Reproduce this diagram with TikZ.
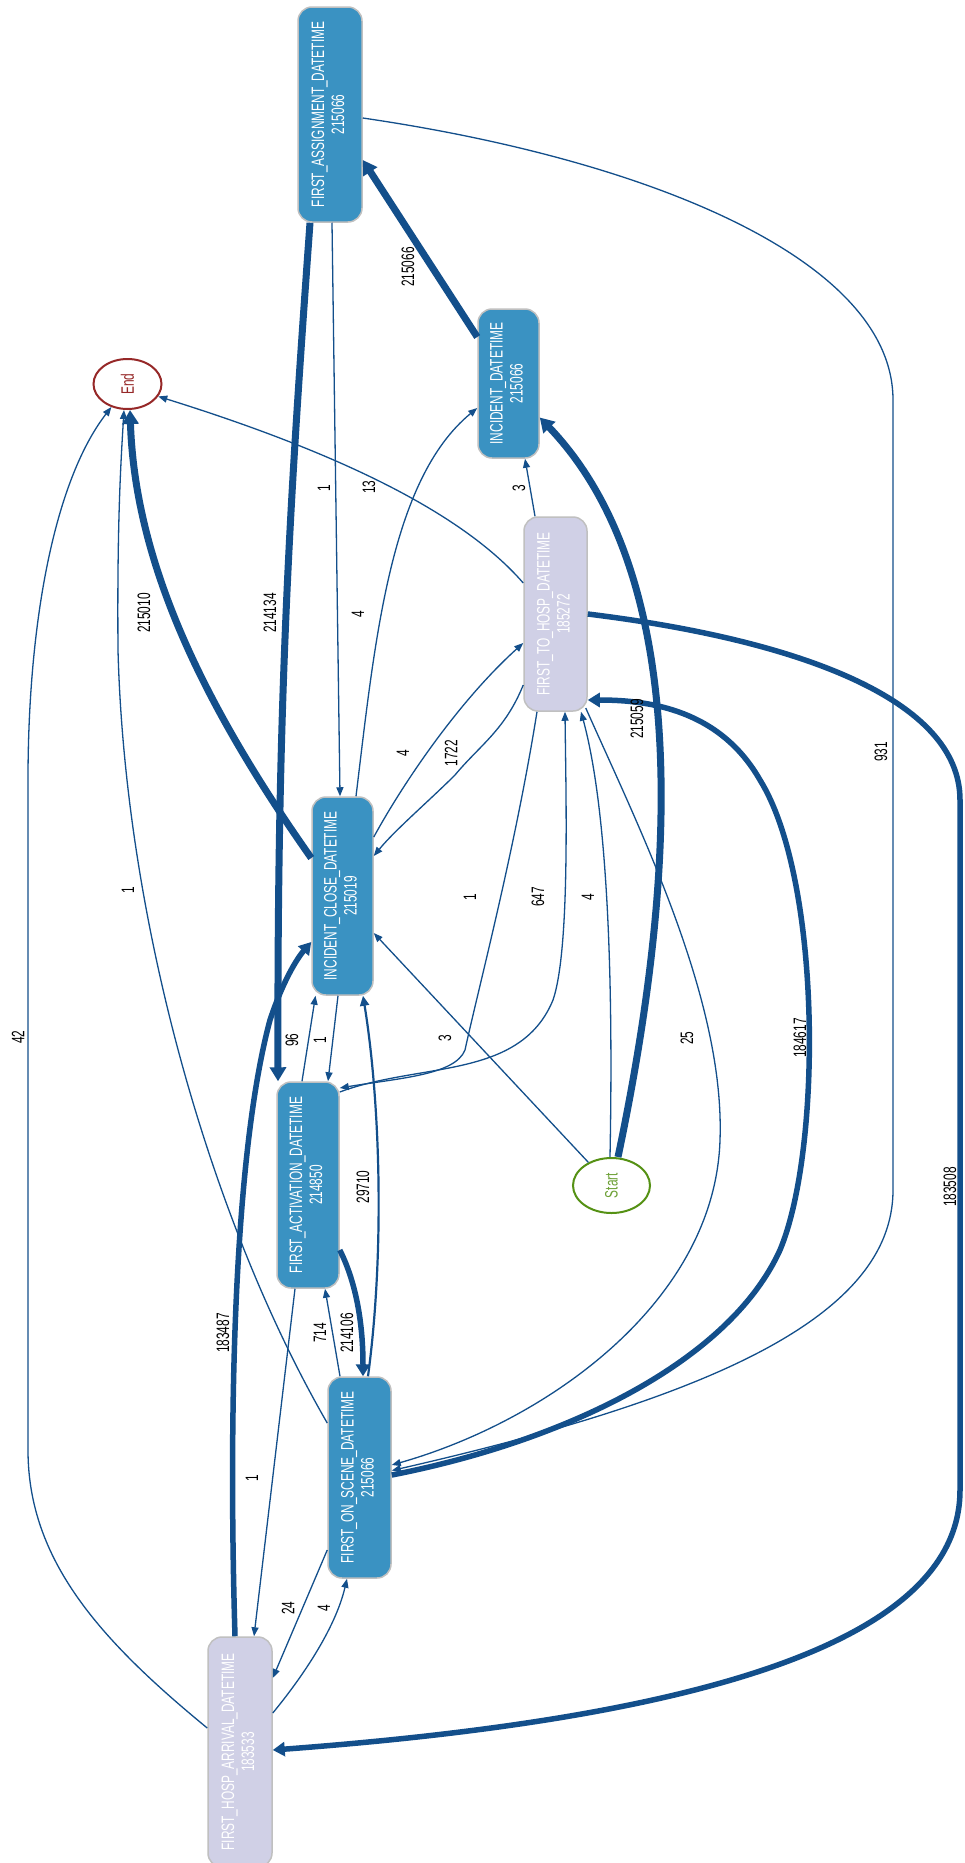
\documentclass[tikz,border=0pt]{standalone}
\usepackage{fontspec}
\usepackage{graphicx}
\usetikzlibrary{arrows.meta,shapes.geometric,calc}
\newfontfamily\narrowsans{Liberation Sans}[FakeStretch=0.66]
\definecolor{edgeblue}{RGB}{19,79,139}
\definecolor{actblue}{RGB}{58,146,194}
\definecolor{actgrey}{RGB}{208,208,230}
\definecolor{boxline}{RGB}{192,192,192}
\definecolor{endred}{RGB}{150,40,40}
\definecolor{startgreen}{RGB}{85,145,20}
% activity name over its count, turned on its side
\newcommand\act[2]{\rotatebox{90}{\begin{tabular}{@{}c@{}}#1\\#2\end{tabular}}}

\begin{document}
\begin{tikzpicture}[x=1pt,y=-1pt,
  font=\narrowsans\fontsize{18}{20}\selectfont,
  box/.style={draw=boxline,line width=1.5pt,rounded corners=14pt,inner sep=0pt,text=white},
  busy/.style={box,fill=actblue},
  rare/.style={box,fill=actgrey},
  terminal/.style={ellipse,line width=2pt,inner sep=0pt,minimum width=68pt,minimum height=50pt},
  flowlo/.style={draw=edgeblue,line width=1.3pt,-{Triangle[length=9pt,width=7pt]}},
  flowmd/.style={draw=edgeblue,line width=2.2pt,-{Triangle[length=10pt,width=9pt]}},
  flowhi/.style={draw=edgeblue,line width=5.5pt,-{Triangle[length=12pt,width=14pt]}},
  flowtop/.style={draw=edgeblue,line width=7pt,-{Triangle[length=14pt,width=16pt]}},
  cnt/.style={rotate=90,inner sep=0pt,text=black}]
\fill[white] (0,0) rectangle (964,1863);
\useasboundingbox (0,0) rectangle (964,1863);

% activities
\node[busy,minimum width=64pt,minimum height=215pt] (fa) at (330,114.5) {\act{FIRST\_ASSIGNMENT\_DATETIME}{215066}};
\node[busy,minimum width=61pt,minimum height=149pt] (inc) at (508.5,383.5) {\act{INCIDENT\_DATETIME}{215066}};
\node[rare,minimum width=63pt,minimum height=194pt] (fth) at (555.5,614) {\act{FIRST\_TO\_HOSP\_DATETIME}{185272}};
\node[busy,minimum width=61pt,minimum height=198pt] (icl) at (342.5,896) {\act{INCIDENT\_CLOSE\_DATETIME}{215019}};
\node[busy,minimum width=62pt,minimum height=206pt] (fact) at (308,1185) {\act{FIRST\_ACTIVATION\_DATETIME}{214850}};
\node[busy,minimum width=63pt,minimum height=201pt] (fos) at (359.5,1477.5) {\act{FIRST\_ON\_SCENE\_DATETIME}{215066}};
\node[rare,minimum width=64pt,minimum height=230pt] (fha) at (240,1752) {\act{FIRST\_HOSP\_ARRIVAL\_DATETIME}{183533}};
\node[terminal,draw=endred,text=endred] (fin) at (127.5,384) {\rotatebox{90}{End}};
\node[terminal,draw=startgreen,text=startgreen!85!white,minimum width=77pt,minimum height=55pt] (start) at (611.5,1185.5) {\rotatebox{90}{Start}};

% heavy flows
\draw[flowtop] ($(inc.west)+(0,-46.5)$) -- ($(fa.east)+(0,45.5)$);
\draw[flowtop] ($(fa.south)+(-20,0)$) .. controls (290,500) and (277,700) .. ($(fact.north)+(-30,0)$);
\draw[flowtop] ($(start.north)+(6.5,0)$) .. controls (672,900) and (700,585) .. ($(inc.east)+(0,34)$);
\draw[flowtop] ($(icl.west)+(0,-38)$) .. controls (200,700) and (135,560) .. ($(fin.south)+(2.5,0)$);
\draw[flowhi] ($(fact.east)+(0,65)$) .. controls (355,1280) and (363,1320) .. ($(fos.north)+(3.5,0)$);
\draw[flowhi] ($(fos.east)+(0,-2.5)$) .. controls (570,1440) and (730,1360) .. (780,1250)
  .. controls (822,1150) and (822,880) .. (760,780) .. controls (720,710) and (650,700) .. ($(fth.east)+(0,86)$);
\draw[flowhi] (fth.east) .. controls (800,640) and (960,700) .. (960,800) -- (960,1490)
  .. controls (960,1630) and (740,1715) .. ($(fha.east)+(0,-2)$);
\draw[flowhi] ($(fha.north)+(-5,0)$) .. controls (228,1400) and (235,1150) .. (270,1020)
  .. controls (285,975) and (300,955) .. ($(icl.west)+(0,46)$);
\draw[flowmd] ($(fos.north)+(8.5,0)$) .. controls (385,1250) and (380,1100) .. ($(icl.south)+(20.5,0)$);

% light flows
\draw[flowlo] ($(fa.south)+(2,0)$) -- ($(icl.north)+(-2.5,0)$);
\draw[flowlo] ($(fa.east)+(0,3.5)$) .. controls (650,160) and (893,260) .. (893,400) -- (893,1190)
  .. controls (893,1320) and (700,1400) .. ($(fos.east)+(0,-7)$);
\draw[flowlo] ($(fth.north)+(-20.5,0)$) -- ($(inc.south)+(16.5,0)$);
\draw[flowlo] ($(icl.north)+(13.5,0)$) .. controls (375,640) and (390,480) .. ($(inc.west)+(0,24.5)$);
\draw[flowlo] ($(fth.west)+(0,-31)$) .. controls (460,510) and (330,450) .. (fin.-22);
\draw[flowlo] ($(icl.east)+(0,-59)$) .. controls (405,780) and (460,700) .. ($(fth.west)+(0,29)$);
\draw[flowlo] ($(fth.west)+(0,71)$) .. controls (505,730) and (480,745) .. (455,775)
  .. controls (430,800) and (395,830) .. ($(icl.east)+(0,-40)$);
\draw[flowlo] ($(fth.south)+(-18.5,0)$) .. controls (515,850) and (478,990) .. (465,1050)
  .. controls (455,1075) and (400,1078) .. ($(fact.east)+(0,-97)$);
\draw[flowlo] ($(fact.east)+(0,-93)$) .. controls (420,1062) and (520,1080) .. (553,1000)
  .. controls (570,950) and (566,800) .. ($(fth.south)+(9.5,0)$);
\draw[flowlo] ($(start.north)+(-1.5,0)$) .. controls (614,950) and (605,800) .. ($(fth.south)+(25.5,0)$);
\draw[flowlo] ($(fth.east)+(-2,94)$) .. controls (640,830) and (725,1000) .. (720,1140)
  .. controls (715,1300) and (550,1420) .. ($(fos.east)+(0,-12.5)$);
\draw[flowlo] (start.135) -- ($(icl.east)+(0,37)$);
\draw[flowlo] ($(fact.north)+(-6,0)$) -- ($(icl.south)+(-27,0)$);
\draw[flowlo] ($(icl.south)+(-4.5,0)$) -- ($(fact.north)+(20,0)$);
\draw[flowlo] ($(fos.north)+(-19.5,0)$) -- ($(fact.south)+(17,0)$);
\draw[flowlo] ($(fos.west)+(0,-54.5)$) .. controls (210,1220) and (125,920) .. (118,650)
  .. controls (117,520) and (121,460) .. ($(fin.south)+(-3.5,0)$);
\draw[flowlo] ($(fact.south)+(-13,0)$) -- ($(fha.north)+(14,0)$);
\draw[flowlo] ($(fos.west)+(0,72.5)$) -- ($(fha.east)+(0,-74)$);
\draw[flowlo] ($(fha.east)+(0,-39)$) .. controls (300,1680) and (335,1630) .. ($(fos.south)+(-12.5,0)$);
\draw[flowlo] ($(fha.west)+(0,-24)$) .. controls (100,1640) and (28,1560) .. (28,1450) -- (28,780)
  .. controls (28,620) and (55,480) .. (fin.-125);

% counts on the flows
\foreach \px/\py/\txt [count=\k] in {408/267/215066, 270/613/214134, 324/488/1, 369/487/13,
    358/614/4, 519/488/3, 144/613/215010, 403/753/4, 451/753/1722, 881/752/931,
    637/719/215059, 128/890/1, 470/897/1, 538/897/647, 588/897/4, 800/1038/184617,
    292/1040/96, 320/1040/1, 445/1038/3, 687/1038/25, 18/1037/42, 363/1187/29710,
    950/1187/183508, 223/1333/183487, 320/1333/714, 347/1333/214106, 252/1478/1,
    288/1608/24, 324/1608/4}
  \node[cnt] (lab\k) at (\px,\py) {\txt};
\end{tikzpicture}
\end{document}
